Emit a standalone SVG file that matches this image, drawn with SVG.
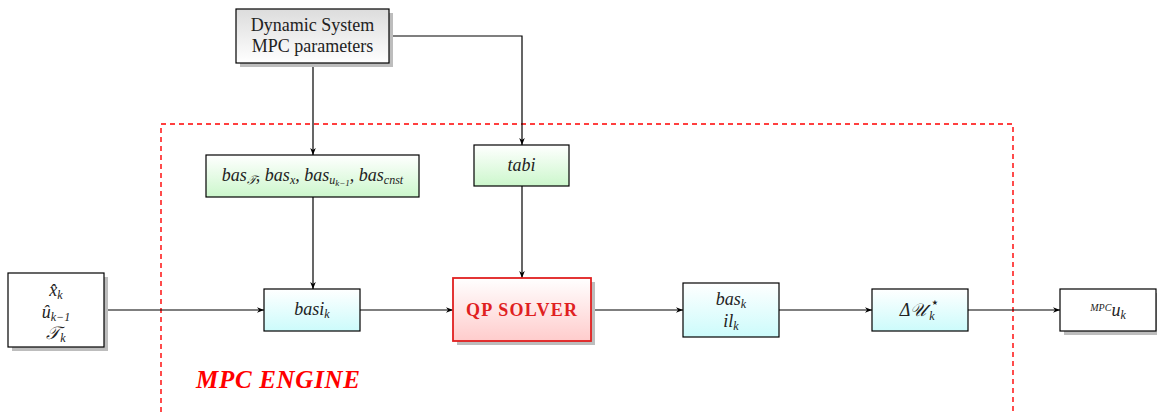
<svg xmlns="http://www.w3.org/2000/svg" width="1157" height="412" viewBox="0 0 1157 412">
<defs>
<linearGradient id="gGray" x1="0" y1="0" x2="0" y2="1"><stop offset="0" stop-color="#dcdcdc"/><stop offset="1" stop-color="#ffffff"/></linearGradient>
<linearGradient id="gGreen" x1="0" y1="0" x2="0" y2="1"><stop offset="0" stop-color="#ffffff"/><stop offset="1" stop-color="#ccf7cc"/></linearGradient>
<linearGradient id="gCyan" x1="0" y1="0" x2="0" y2="1"><stop offset="0" stop-color="#ffffff"/><stop offset="1" stop-color="#ccfbfb"/></linearGradient>
<linearGradient id="gRed" x1="0" y1="0" x2="0" y2="1"><stop offset="0" stop-color="#ffffff"/><stop offset="1" stop-color="#ffcccc"/></linearGradient>
<marker id="arr" viewBox="0 0 10 10" refX="10" refY="5" markerWidth="7" markerHeight="7" orient="auto" markerUnits="userSpaceOnUse"><path d="M0,1 L10,5 L0,9 L3,5 Z" fill="#000"/></marker>
</defs>
<style>
.box{stroke:#000;stroke-width:1.2}
.sh{fill:#bdbdbd}
.t{font-family:"Liberation Serif","DejaVu Serif",serif;font-size:18px;fill:#222;text-anchor:middle}
.m{font-style:italic}
.sub{font-size:12px}
.con{fill:none;stroke:#000;stroke-width:1.2;marker-end:url(#arr)}
.red{font-family:"Liberation Serif","DejaVu Serif",serif;font-weight:bold}
</style>
<rect x="161" y="124" width="852" height="300" fill="none" stroke="#ff0000" stroke-width="1.4" stroke-dasharray="5,4"/>
<text class="red" x="196" y="388" font-size="25" font-style="italic" fill="#ff0000" textLength="164" lengthAdjust="spacing">MPC ENGINE</text>
<g id="connectors">
<path class="con" d="M313,63 V155"/>
<path class="con" d="M389,36 H522 V145"/>
<path class="con" d="M313,197 V289"/>
<path class="con" d="M522,186 V278"/>
<path class="con" d="M104,310 H264"/>
<path class="con" d="M360,310 H453"/>
<path class="con" d="M591,310 H683"/>
<path class="con" d="M779,310 H872"/>
<path class="con" d="M968,310 H1060"/>
</g>
<g id="params">
<rect class="sh" x="240" y="13" width="153" height="54"/>
<rect class="box" x="236" y="9" width="153" height="54" fill="url(#gGray)"/>
<text class="t" x="312.5" y="31">Dynamic System</text>
<text class="t" x="312.5" y="52">MPC parameters</text>
</g>
<g id="bas">
<rect class="box" x="206" y="155" width="213" height="42" fill="url(#gGreen)"/>
<text class="t m" x="312.5" y="181">bas<tspan class="sub" dy="3">𝒯</tspan><tspan dy="-3">, bas</tspan><tspan class="sub" dy="3">x</tspan><tspan dy="-3">, bas</tspan><tspan class="sub" dy="3">u</tspan><tspan font-size="9" dy="2">k−1</tspan><tspan dy="-5">, bas</tspan><tspan class="sub" dy="3">cnst</tspan></text>
</g>
<g id="tabi">
<rect class="box" x="474" y="145" width="95" height="41" fill="url(#gGreen)"/>
<text class="t m" x="521.5" y="171">tabi</text>
</g>
<g id="input">
<rect class="sh" x="12" y="277" width="96" height="74"/>
<rect class="box" x="8" y="273" width="96" height="74" fill="#fff"/>
<text class="t m" x="56" y="296">x̂<tspan class="sub" dy="3">k</tspan></text>
<text class="t m" x="56" y="318">û<tspan class="sub" dy="3">k−1</tspan></text>
<text class="t m" x="56" y="339">𝒯<tspan class="sub" dy="3">k</tspan></text>
</g>
<g id="basi">
<rect class="box" x="264" y="289" width="96" height="42" fill="url(#gCyan)"/>
<text class="t m" x="312" y="315">basi<tspan class="sub" dy="3">k</tspan></text>
</g>
<g id="qp">
<rect class="sh" x="457" y="282" width="138" height="63"/>
<rect x="453" y="278" width="138" height="63" fill="url(#gRed)" stroke="#e02020" stroke-width="1.8"/>
<text class="red" x="466" y="316" font-size="18" fill="#e02020" textLength="111" lengthAdjust="spacing">QP SOLVER</text>
</g>
<g id="basil">
<rect class="box" x="683" y="283" width="96" height="54" fill="url(#gCyan)"/>
<text class="t m" x="731" y="305">bas<tspan class="sub" dy="3">k</tspan></text>
<text class="t m" x="731" y="327">il<tspan class="sub" dy="3">k</tspan></text>
</g>
<g id="du">
<rect class="box" x="872" y="289" width="96" height="42" fill="url(#gCyan)"/>
<text class="t m" x="913" y="316">Δ𝒰</text>
<text class="t m sub" x="932" y="320">k</text>
<text x="935" y="307" font-family="DejaVu Sans" font-size="14" text-anchor="middle" fill="#222">⋆</text>
</g>
<g id="output">
<rect class="sh" x="1064" y="293" width="96" height="42"/>
<rect class="box" x="1060" y="289" width="96" height="42" fill="#fff"/>
<text class="t m" x="1108" y="316"><tspan font-size="10" dy="-5">MPC</tspan><tspan dy="5">u</tspan><tspan class="sub" dy="3">k</tspan></text>
</g>
</svg>
